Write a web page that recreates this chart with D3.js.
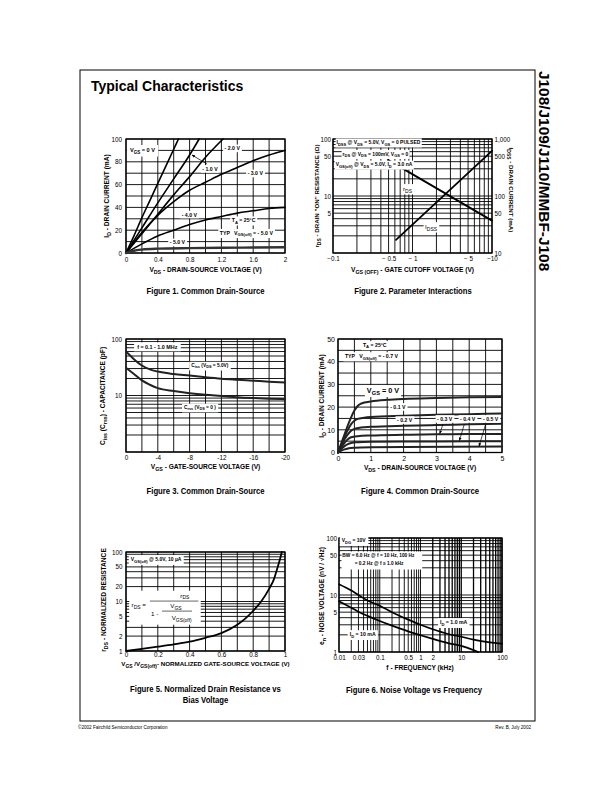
<!DOCTYPE html>
<html><head><meta charset="utf-8">
<script src="https://cdn.jsdelivr.net/npm/d3@7/dist/d3.min.js"></script>
<style>
body{margin:0;background:#fff}
svg{display:block}
text{white-space:pre;fill:#000}
</style></head><body>
<svg id="page" width="612" height="792"></svg>
<script>
// ---------------- DATA ----------------
// Figure 1: ID (mA) vs VDS (V) for several VGS
const f1XTicks = [0, 0.4, 0.8, 1.2, 1.6, 2];
const f1XLabels = ["0", "0.4", "0.8", "1.2", "1.6", "2"];
const f1YTicks = [0, 20, 40, 60, 80, 100];
const f1YLabels = ["0", "20", "40", "60", "80", "100"];
const f1Vgs0  = [[0,0],[0.1,15],[0.2,31],[0.3,46],[0.4,61],[0.5,76],[0.6,91],[0.66,100]];
const f1Vgs1  = [[0,0],[0.2,22],[0.4,44],[0.6,65],[0.8,86],[0.92,100]];
const f1Vgs2  = [[0,0],[0.2,17],[0.4,34],[0.6,51],[0.8,67],[1.0,84],[1.22,100]];
const f1Vgs3  = [[0,0],[0.2,18],[0.4,33],[0.6,45],[0.8,55],[1.0,62],[1.2,69],[1.4,75],[1.6,81],[1.8,86],[2,90]];
const f1Vgs4  = [[0,0],[0.2,8],[0.4,15],[0.6,20],[0.8,25],[1.0,29],[1.2,32],[1.4,35],[1.6,37],[1.8,39],[2,40]];
const f1Vgs5  = [[0,0],[0.1,2],[0.2,3],[0.4,3.8],[0.8,4.3],[1.2,4.6],[1.6,4.8],[2,5]];

// Figure 2: rDS (ohm, left) and IDSS (mA, right) vs VGS(off) (V)
const f2XTicks = [-0.1, -0.5, -1, -5, -10];
const f2XLabels = ["\u22120.1", "\u2212 0.5", "\u2212 1", "\u2212 5", "\u221210"];
const f2YTicks = [100, 50, 10, 5];
const f2YLabels = ["100", "50", "10", "5"];
const f2YRTicks = [1000, 500, 100, 50, 10];
const f2YRLabels = ["1,000", "500", "100", "50", "10"];
const f2Rds  = [[-0.49, 43], [-10, 3.7]];
const f2Idss = [[-0.62, 17], [-10, 620]];

// Figure 3: capacitance (pF) vs VGS (V)
const f3XTicks = [0, -4, -8, -12, -16, -20];
const f3XLabels = ["0", "-4", "-8", "-12", "-16", "-20"];
const f3YTicks = [100, 10];
const f3YLabels = ["100", "10"];
const f3Ciss = [[0,60],[-1,44],[-2,34],[-3,29],[-4,26.5],[-6,24],[-8,22.5],[-10,21],[-12,19.8],[-14,19],[-16,18.3],[-18,17.6],[-20,17]];
const f3Crss = [[0,31],[-1,24],[-2,18.5],[-3,15.5],[-4,13.5],[-6,12],[-8,11],[-10,10.3],[-12,9.8],[-14,9.3],[-16,9],[-18,8.8],[-20,8.6]];

// Figure 4: ID (mA) vs VDS (V)
const f4XTicks = [0, 1, 2, 3, 4, 5];
const f4XLabels = ["0", "1", "2", "3", "4", "5"];
const f4YTicks = [0, 10, 20, 30, 40, 50];
const f4YLabels = ["0", "10", "20", "30", "40", "50"];
const f4Vgs00 = [[0,0],[0.1,4],[0.2,8],[0.3,12],[0.4,15.5],[0.5,18.5],[0.6,20.5],[0.7,21.5],[0.8,22],[1,22.5],[1.5,23.2],[2,23.6],[3,24],[4,24.3],[5,24.5]];
const f4Vgs01 = [[0,0],[0.1,3.5],[0.2,7],[0.3,10],[0.4,12.5],[0.5,14],[0.6,14.8],[0.8,15.3],[1,15.6],[2,16.2],[3,16.6],[4,16.9],[5,17.2]];
const f4Vgs02 = [[0,0],[0.1,3],[0.2,5.8],[0.3,8],[0.4,9.6],[0.5,10.4],[0.7,11],[1,11.3],[2,11.8],[3,12.1],[4,12.4],[5,12.7]];
const f4Vgs03 = [[0,0],[0.1,2.2],[0.2,4.2],[0.3,5.8],[0.4,6.7],[0.6,7.2],[1,7.5],[2,7.8],[3,8],[4,8.1],[5,8.2]];
const f4Vgs04 = [[0,0],[0.1,1.5],[0.2,2.8],[0.3,3.7],[0.4,4.2],[0.6,4.5],[1,4.7],[2,4.8],[3,4.9],[5,5]];
const f4Vgs05 = [[0,0],[0.1,0.8],[0.2,1.4],[0.3,1.8],[0.5,2.1],[1,2.3],[2,2.4],[5,2.6]];

// Figure 5: normalized rDS vs VGS/VGS(off)
const f5XTicks = [0, 0.2, 0.4, 0.6, 0.8, 1];
const f5XLabels = ["0", "0.2", "0.4", "0.6", "0.8", "1"];
const f5YTicks = [100, 50, 20, 10, 5, 2, 1];
const f5YLabels = ["100", "50", "20", "10", "5", "2", "1"];
const f5Rn = [[0,1],[0.1,1.1],[0.2,1.22],[0.3,1.36],[0.4,1.54],[0.5,1.85],[0.6,2.3],[0.7,3.4],[0.75,4.5],[0.8,6.5],[0.85,10],[0.9,18],[0.93,28],[0.95,45],[0.97,75],[0.98,100]];

// Figure 6: noise voltage (nV/rtHz) vs frequency (kHz)
const f6XTicks = [0.01, 0.03, 0.1, 0.5, 1, 2, 10, 100];
const f6XLabels = ["0.01", "0.03", "0.1", "0.5", "1", "2", "10", "100"];
const f6YTicks = [100, 50, 10, 5, 1];
const f6YLabels = ["100", "50", "10", "5", "1"];
const f6Id1  = [[0.01,15.5],[0.02,12],[0.03,10],[0.05,8],[0.1,6.5],[0.2,5],[0.5,3.7],[1,3],[2,2.5],[5,2.05],[10,1.85],[20,1.65],[50,1.48],[100,1.4]];
const f6Id10 = [[0.01,7.8],[0.02,6],[0.03,5.1],[0.05,4.3],[0.1,3.5],[0.2,2.9],[0.5,2.3],[1,1.97],[2,1.7],[5,1.42],[10,1.28],[20,1.08],[26,1]];

// ---------------- DRAWING ----------------
const FONT = '"Liberation Sans", Arial, Helvetica, sans-serif';
const svg = d3.select('#page');

const defs = svg.append('defs');
defs.append('marker').attr('id','arr').attr('viewBox','0 0 10 10').attr('refX',9).attr('refY',5)
  .attr('markerWidth',5).attr('markerHeight',5).attr('orient','auto-start-reverse')
  .append('path').attr('d','M0,1 L10,5 L0,9 z').attr('fill','#000');

function rich(t, str, fs){
  const parts = str.split(/(\{[^}]*\})/).filter(s => s !== '');
  let cur = 0;
  for (const s of parts){
    if (s[0] === '{'){
      const off = fs * 0.28;
      t.append('tspan').attr('dy', off - cur).attr('font-size', fs * 0.8).text(s.slice(1, -1));
      cur = off;
    } else {
      t.append('tspan').attr('dy', -cur).text(s);
      cur = 0;
    }
  }
}
// horizontal condensing, like the narrow face of the original
function condense(t, k){
  const w = t.node().getComputedTextLength();
  t.attr('textLength', w * k).attr('lengthAdjust', 'spacingAndGlyphs');
}

function logGrid(a, b){
  const sign = a < 0 ? -1 : 1;
  const lo = Math.min(Math.abs(a), Math.abs(b)), hi = Math.max(Math.abs(a), Math.abs(b));
  const out = [];
  for (let e = Math.floor(Math.log10(lo)); e <= Math.ceil(Math.log10(hi)); e++){
    for (let m = 1; m <= 9; m++){
      const v = +(m * Math.pow(10, e)).toPrecision(6);
      if (v >= lo * 0.999 && v <= hi * 1.001) out.push(sign * v);
    }
  }
  return out;
}

function panel(o){
  const [L, T, R, B] = o.box;
  const g = svg.append('g');
  const x = (o.xLog ? d3.scaleLog() : d3.scaleLinear()).domain(o.xDomain).range([L, R]);
  const y = (o.yLog ? d3.scaleLog() : d3.scaleLinear()).domain(o.yDomain).range([B, T]);
  const gridG = g.append('g').attr('stroke', '#000');
  gridG.selectAll('line.v').data(o.xGrid).join('line').attr('class','v')
    .attr('x1', d => x(d)).attr('x2', d => x(d)).attr('y1', T).attr('y2', B)
    .attr('stroke-width', d => o.xGridW ? o.xGridW(d) : 0.9);
  gridG.selectAll('line.h').data(o.yGrid).join('line').attr('class','h')
    .attr('y1', d => y(d)).attr('y2', d => y(d)).attr('x1', L).attr('x2', R)
    .attr('stroke-width', 0.9);
  g.append('rect').attr('x', L).attr('y', T).attr('width', R - L).attr('height', B - T)
    .attr('fill', 'none').attr('stroke', '#000').attr('stroke-width', 1.3);
  const fs = o.tickFs || 6.3;
  const ax = g.append('g').attr('transform', `translate(0,${B})`)
    .call(d3.axisBottom(x).tickValues(o.xTicks).tickFormat((d, i) => o.xLabels[i]).tickSize(0).tickPadding(o.xPad));
  ax.attr('font-size', fs).attr('font-family', FONT).select('.domain').remove();
  const ay = g.append('g').attr('transform', `translate(${L},0)`)
    .call(d3.axisLeft(y).tickValues(o.yTicks).tickFormat((d, i) => o.yLabels[i]).tickSize(0).tickPadding(o.yPad));
  ay.attr('font-size', fs).attr('font-family', FONT).select('.domain').remove();
  return {g, x, y, box: o.box};
}

function curve(p, data, w, col, yScale){
  const ys = yScale || p.y;
  const line = d3.line().x(d => p.x(d[0])).y(d => ys(d[1])).curve(d3.curveMonotoneX);
  p.g.append('path').datum(data).attr('d', line).attr('fill', 'none')
    .attr('stroke', col || '#000').attr('stroke-width', w || 1.6).attr('stroke-linecap','round');
}

function label(p, xv, yv, str, o = {}){
  const fs = o.fs || 5.2;
  const ys = o.yScale || p.y;
  const t = p.g.append('text').attr('x', p.x(xv)).attr('y', ys(yv)).attr('font-size', fs)
    .attr('font-weight', o.normal ? 'normal' : 'bold').attr('text-anchor', o.anchor || 'start')
    .attr('font-family', FONT);
  rich(t, str, fs);
  if (o.box){
    const b = t.node().getBBox();
    const px = o.padX != null ? o.padX : 1.5, py = o.padY != null ? o.padY : 0.8;
    p.g.insert('rect', () => t.node()).attr('x', b.x - px).attr('y', b.y - py)
      .attr('width', b.width + 2 * px).attr('height', b.height + 2 * py).attr('fill', '#fff');
  }
  return t;
}

function arrow(p, x1, y1, x2, y2){
  p.g.append('line').attr('x1', p.x(x1)).attr('y1', p.y(y1)).attr('x2', p.x(x2)).attr('y2', p.y(y2))
    .attr('stroke', '#000').attr('stroke-width', 0.7).attr('marker-end', 'url(#arr)');
}

function axisTitle(x, y, str, rot, fs){
  const t = svg.append('text').attr('transform', `translate(${x},${y}) rotate(${rot || 0})`)
    .attr('text-anchor', 'middle').attr('font-size', fs || 6.6).attr('font-weight', 'bold').attr('font-family', FONT);
  rich(t, str, fs || 6.6);
}
function caption(x, y, str){
  const t = svg.append('text').attr('x', x).attr('y', y).attr('text-anchor', 'middle')
    .attr('font-size', 9.4).attr('font-weight', 'bold').attr('font-family', FONT).text(str);
  condense(t, 0.82);
}

// Page frame and headings
svg.append('rect').attr('x', 80).attr('y', 70).attr('width', 455).attr('height', 651)
  .attr('fill', 'none').attr('stroke', '#000').attr('stroke-width', 1);
svg.append('text').attr('x', 91).attr('y', 91).attr('font-size', 14).attr('font-weight', 'bold')
  .attr('font-family', FONT).text('Typical Characteristics');
svg.append('text').attr('transform', 'translate(539,71) rotate(90)').attr('font-size', 15.4)
  .attr('font-weight', 'bold').attr('font-family', FONT).text('J108/J109/J110/MMBF-J108');
svg.append('text').attr('x', 78).attr('y', 729).attr('font-size', 4.6).attr('font-family', FONT)
  .text('\u00A92002 Fairchild Semiconductor Corporation');
svg.append('text').attr('x', 531).attr('y', 729).attr('font-size', 4.6).attr('font-family', FONT)
  .attr('text-anchor', 'end').text('Rev. B, July 2002');

// ---- Figure 1
const p1 = panel({box: [126, 139, 285, 253], xDomain: [0, 2], yDomain: [0, 100],
  xGrid: d3.range(0, 2.01, 0.2), yGrid: d3.range(0, 101, 10),
  xTicks: f1XTicks, xLabels: f1XLabels, yTicks: f1YTicks, yLabels: f1YLabels, xPad: 4.5, yPad: 4});
[f1Vgs0, f1Vgs1, f1Vgs2, f1Vgs3, f1Vgs4].forEach(d => curve(p1, d, 1.6));
curve(p1, f1Vgs5, 2.4, '#333');
label(p1, 0.05, 88.6, 'V{GS} = 0 V', {fs: 5.6, box: true, padX: 3, padY: 2});
label(p1, 1.24, 90, '- 2.0 V', {box: true});
label(p1, 0.96, 72, '- 1.0 V', {box: true});
arrow(p1, 1.02, 78, 0.83, 86);
label(p1, 1.53, 68, '- 3.0 V', {box: true});
label(p1, 0.70, 32, '- 4.0 V', {box: true});
label(p1, 1.33, 27, 'T{A} = 25\u00B0C', {box: true});
label(p1, 1.18, 16, 'TYP   V{GS(off)} = - 5.0 V', {box: true});
label(p1, 0.55, 7.5, '- 5.0 V', {box: true});
axisTitle(205.5, 272, 'V{DS} - DRAIN-SOURCE VOLTAGE (V)');
axisTitle(109, 196, 'I{D} - DRAIN CURRENT (mA)', -90);
caption(205.5, 294, 'Figure 1. Common Drain-Source');

// ---- Figure 2
const p2 = panel({box: [333, 139, 492, 253], xLog: true, yLog: true, xDomain: [-0.1, -10], yDomain: [1, 100],
  xGrid: logGrid(-0.1, -10), yGrid: logGrid(1, 100),
  xTicks: f2XTicks, xLabels: f2XLabels, yTicks: f2YTicks, yLabels: f2YLabels, xPad: 4, yPad: 2});
const p2yR = d3.scaleLog().domain([10, 1000]).range([253, 139]);
const ayR = p2.g.append('g').attr('transform', 'translate(492,0)')
  .call(d3.axisRight(p2yR).tickValues(f2YRTicks).tickFormat((d, i) => f2YRLabels[i]).tickSize(0).tickPadding(2.5));
ayR.attr('font-size', 6.3).attr('font-family', FONT).select('.domain').remove();
curve(p2, f2Rds, 1.8);
curve(p2, f2Idss, 1.8, '#000', p2yR);
label(p2, -0.111, 81, 'I{DSS} @ V{DS} = 5.0V, V{GS} = 0 PULSED', {fs: 5, box: true, padX: 1, padY: 0.8});
label(p2, -0.132, 50.8, 'r{DS} @ V{DS} = 100mV, V{GS} = 0', {fs: 5, box: true, padX: 1, padY: 0.8});
label(p2, -0.108, 33, 'V{GS(off)} @ V{DS} = 5.0V, I{D} = 3.0 nA', {fs: 5, box: true, padX: 1, padY: 0.8});
label(p2, -0.76, 12.3, 'r{DS}', {fs: 6.2, box: true, normal: true});
label(p2, -1.44, 2.64, 'I{DSS}', {fs: 6.2, box: true, normal: true});
axisTitle(412.5, 272, 'V{GS (OFF)} - GATE CUTOFF VOLTAGE (V)');
axisTitle(319, 196, 'r{DS} - DRAIN "ON" RESISTANCE (\u03A9)', -90, 6.2);
axisTitle(509, 190, 'I{DSS} - DRAIN CURRENT (mA)', 90, 6.2);
caption(413, 294, 'Figure 2. Parameter Interactions');

// ---- Figure 3
const p3 = panel({box: [126, 339, 285, 452], yLog: true, xDomain: [0, -20], yDomain: [1, 100],
  xGrid: d3.range(0, -20.01, -2), yGrid: logGrid(1, 100),
  xTicks: f3XTicks, xLabels: f3XLabels, yTicks: f3YTicks, yLabels: f3YLabels, xPad: 3.5, yPad: 4});
curve(p3, f3Ciss, 2, '#222');
curve(p3, f3Crss, 2, '#222');
label(p3, -1.4, 67, 'f = 0.1 - 1.0 MHz', {fs: 5.4, box: true, padX: 3, padY: 1.5});
label(p3, -8.2, 32, 'C{iss} (V{DS} = 5.0V)', {fs: 4.8, box: true, padX: 2, padY: 1.2});
label(p3, -7.3, 5.8, 'C{rss} (V{DS} = 0 )', {fs: 4.8, box: true, padX: 2, padY: 1.2});
axisTitle(205.5, 469, 'V{GS} - GATE-SOURCE VOLTAGE (V)');
axisTitle(105, 396, 'C{iss} (C{rss}) - CAPACITANCE (pF)', -90);
caption(205.5, 494, 'Figure 3. Common Drain-Source');

// ---- Figure 4
const p4 = panel({box: [338, 339, 502, 452.5], xDomain: [0, 5], yDomain: [0, 50],
  xGrid: d3.range(0, 5.01, 0.5), yGrid: d3.range(0, 51, 5),
  xTicks: f4XTicks, xLabels: f4XLabels, yTicks: f4YTicks, yLabels: f4YLabels, xPad: 3.5, yPad: 3, tickFs: 7});
[f4Vgs00, f4Vgs01, f4Vgs02, f4Vgs03, f4Vgs04, f4Vgs05].forEach(d => curve(p4, d, 2, '#222'));
label(p4, 0.76, 46.5, 'T{A} = 25\u00B0C', {box: true});
label(p4, 0.21, 41.6, 'TYP   V{GS(off)} = - 0.7 V', {box: true});
label(p4, 0.88, 26.2, 'V{GS} = 0 V', {fs: 7.2, box: true, padX: 2, padY: 1});
label(p4, 1.59, 19.2, '- 0.1 V', {box: true});
label(p4, 1.8, 13.4, '- 0.2 V', {box: true});
label(p4, 3.02, 13.9, '- 0.3 V', {box: true});
label(p4, 3.72, 13.9, '- 0.4 V', {box: true});
label(p4, 4.42, 13.9, '- 0.5 V', {box: true});
arrow(p4, 3.2, 12.4, 3.1, 8.3);
arrow(p4, 3.85, 12.4, 3.7, 5.2);
arrow(p4, 4.5, 12.4, 4.3, 2.8);
axisTitle(420, 470, 'V{DS} - DRAIN-SOURCE VOLTAGE (V)');
axisTitle(324, 396, 'I{D} - DRAIN CURRENT (mA)', -90);
caption(420, 494, 'Figure 4. Common Drain-Source');

// ---- Figure 5
const p5 = panel({box: [126, 552, 285, 651], yLog: true, xDomain: [0, 1], yDomain: [1, 100],
  xGrid: d3.range(0, 1.001, 0.1), yGrid: logGrid(1, 100),
  xTicks: f5XTicks, xLabels: f5XLabels, yTicks: f5YTicks, yLabels: f5YLabels, xPad: 1.5, yPad: 3.5});
curve(p5, f5Rn, 1.8);
label(p5, 0.03, 65, 'V{GS(off)} @ 5.0V, 10 \u00B5A', {fs: 5, box: true, padX: 2, padY: 1.2});
// formula box
p5.g.append('rect').attr('x', p5.x(0.02)).attr('y', p5.y(16.5)).attr('width', p5.x(0.47) - p5.x(0.02))
  .attr('height', p5.y(3.4) - p5.y(16.5)).attr('fill', '#fff');
label(p5, 0.035, 7.7, 'r{DS} =', {fs: 6.2, normal: true});
label(p5, 0.37, 11.9, 'r{DS}', {fs: 6.2, normal: true, anchor: 'middle'});
p5.g.append('line').attr('x1', p5.x(0.15)).attr('x2', p5.x(0.455)).attr('y1', p5.y(10.2)).attr('y2', p5.y(10.2)).attr('stroke', '#000').attr('stroke-width', 0.6);
label(p5, 0.158, 5.07, '1 -', {fs: 6.2, normal: true});
label(p5, 0.314, 7.35, 'V{GS}', {fs: 6.2, normal: true, anchor: 'middle'});
p5.g.append('line').attr('x1', p5.x(0.226)).attr('x2', p5.x(0.415)).attr('y1', p5.y(6.4)).attr('y2', p5.y(6.4)).attr('stroke', '#000').attr('stroke-width', 0.6);
label(p5, 0.35, 4.15, 'V{GS(off)}', {fs: 6.2, normal: true, anchor: 'middle'});
axisTitle(205.5, 666, 'V{GS} /V{GS(off)}- NORMALIZED GATE-SOURCE VOLTAGE (V)', 0, 6.2);
axisTitle(106, 600, 'r{DS} - NORMALIZED RESISTANCE', -90);
caption(205.5, 692, 'Figure 5. Normalized Drain Resistance vs');
caption(205.5, 703, 'Bias Voltage');

// ---- Figure 6
const p6 = panel({box: [339, 538, 502, 652], xLog: true, yLog: true, xDomain: [0.01, 100], yDomain: [1, 100],
  xGrid: logGrid(0.01, 100), yGrid: logGrid(1, 100), xGridW: d => d > 1 ? 1.3 : 0.9,
  xTicks: f6XTicks, xLabels: f6XLabels, yTicks: f6YTicks, yLabels: f6YLabels, xPad: 3.5, yPad: 2});
curve(p6, f6Id1, 1.7);
curve(p6, f6Id10, 1.7);
label(p6, 0.0117, 84, 'V{DG} = 10V', {fs: 5, box: true, padX: 2, padY: 1.2});
p6.g.append('rect').attr('x', p6.x(0.0115)).attr('y', p6.y(58)).attr('width', p6.x(1.1) - p6.x(0.0115))
  .attr('height', p6.y(28) - p6.y(58)).attr('fill', '#fff');
label(p6, 0.0121, 45.9, 'BW = 6.0 Hz @ f = 10 Hz, 100 Hz', {fs: 4.8});
label(p6, 0.0243, 33.2, '= 0.2 Hz @ f \u2265 1.0 kHz', {fs: 4.8});
label(p6, 3.0, 3.06, 'I{D} = 1.0 mA', {fs: 5.2, box: true, padX: 2, padY: 1.2});
label(p6, 0.0183, 1.88, 'I{D} = 10 mA', {fs: 5.2, box: true, padX: 2, padY: 1.2});
axisTitle(420, 670, 'f - FREQUENCY (kHz)');
axisTitle(324, 596, 'e{n} - NOISE VOLTAGE (nV / \u221AHz)', -90);
caption(414, 693, 'Figure 6. Noise Voltage vs Frequency');
</script>
</body></html>
